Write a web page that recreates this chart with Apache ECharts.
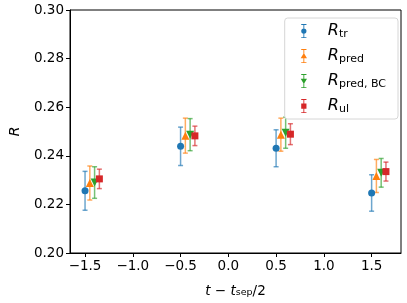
<!DOCTYPE html>
<html><head><meta charset="utf-8">
<script src="https://cdn.jsdelivr.net/npm/echarts@6/dist/echarts.min.js"></script>
<style>html,body{margin:0;padding:0;background:#fff}#c{width:407px;height:303px}</style>
</head><body><div id="c"></div>
<script>
// ---- data ----
const groupX = [-1.5, -0.5, 0.5, 1.5];
const xTicks = [-1.5, -1.0, -0.5, 0.0, 0.5, 1.0, 1.5];
const yTicks = [0.20, 0.22, 0.24, 0.26, 0.28, 0.30];
const seriesKeys = ['tr', 'pred', 'predBC', 'ul'];
const seriesSubs = ['tr', 'pred', 'pred, BC', 'ul'];
const rTr = [0.2256, 0.2439, 0.2431, 0.2247];
const rTrErr = [0.0080, 0.0079, 0.0076, 0.0075];
const rPred = [0.2288, 0.2483, 0.2487, 0.2317];
const rPredErr = [0.0070, 0.0072, 0.0068, 0.0068];
const rPredBC = [0.2290, 0.2487, 0.2495, 0.2330];
const rPredBCErr = [0.0065, 0.0066, 0.0064, 0.0059];
const rUl = [0.2305, 0.2482, 0.2489, 0.2335];
const rUlErr = [0.0040, 0.0040, 0.0043, 0.0039];

const values = [rTr, rPred, rPredBC, rUl];
const errs = [rTrErr, rPredErr, rPredBCErr, rUlErr];
const colors = ['#1f77b4', '#ff7f0e', '#2ca02c', '#d62728'];
const offsets = [0, 0.05, 0.10, 0.15];
const symbols = ['circle', 'triangle', 'triangle', 'rect'];
const symRot = [0, 0, 180, 0];
const symSizes = [7, 8, 8, 7];

const bar = 'M2,0 H8 V1 H2 Z M4.5,0 H5.5 V16 H4.5 Z M2,15 H8 V16 H2 Z ';
const icons = [
  'path://' + bar + 'M8,8 A3,3 0 1 1 2,8 A3,3 0 1 1 8,8 Z',
  'path://' + bar + 'M5,4.5 L8.6,10.5 L1.4,10.5 Z',
  'path://' + bar + 'M1.4,5.5 L8.6,5.5 L5,11.5 Z',
  'path://' + bar + 'M2,5 H8 V11 H2 Z'
];

const series = [];
seriesKeys.forEach((k, si) => {
  const data = groupX.map((x, i) => [x + offsets[si], values[si][i], errs[si][i]]);
  series.push({
    type: 'custom', name: k + '_err', z: 2,
    data: data,
    renderItem: function (params, api) {
      const x = api.value(0), y = api.value(1), e = api.value(2);
      const top = api.coord([x, y + e]);
      const bot = api.coord([x, y - e]);
      const hw = 2.5;
      const st = { stroke: colors[si], lineWidth: 1.5, opacity: 0.65 };
      return { type: 'group', children: [
        { type: 'line', shape: { x1: top[0], y1: top[1], x2: bot[0], y2: bot[1] }, style: st },
        { type: 'line', shape: { x1: top[0] - hw, y1: top[1], x2: top[0] + hw, y2: top[1] }, style: st },
        { type: 'line', shape: { x1: bot[0] - hw, y1: bot[1], x2: bot[0] + hw, y2: bot[1] }, style: st }
      ]};
    }
  });
  series.push({
    type: 'scatter', name: k, z: 3,
    data: data.map(d => [d[0], d[1]]),
    symbol: symbols[si], symbolRotate: symRot[si], symbolSize: symSizes[si],
    itemStyle: { color: colors[si], opacity: 1 }
  });
});

const fmt = v => (v < 0 ? '\u2212' : '') + Math.abs(v).toFixed(1);
const chart = echarts.init(document.getElementById('c'), null, { renderer: 'canvas' });
chart.setOption({
  animation: false,
  textStyle: { fontFamily: 'DejaVu Sans' },
  grid: { left: 62, right: 6, top: 10, bottom: 45, show: true, borderColor: '#000', borderWidth: 1 },
  legend: {
    orient: 'vertical', right: 9, top: 18,
    backgroundColor: '#fff', borderColor: '#d6d6d6', borderWidth: 1, borderRadius: 3,
    padding: [5, 12, 4, 16],
    itemWidth: 10, itemHeight: 14, itemGap: 8,
    data: seriesKeys.map((k, i) => ({ name: k, icon: icons[i], itemStyle: { color: colors[i] } })),
    formatter: function (name) { return '{r|R}{s|' + seriesSubs[seriesKeys.indexOf(name)] + '}'; },
    textStyle: {
      padding: [0, 0, 0, 14],
      rich: {
        r: { fontFamily: 'DejaVu Sans', fontStyle: 'italic', fontSize: 16, color: '#000', lineHeight: 18 },
        s: { fontFamily: 'DejaVu Sans', fontSize: 11, color: '#000', verticalAlign: 'bottom', lineHeight: 12 }
      }
    }
  },
  xAxis: {
    type: 'value', min: -1.6575, max: 1.8075,
    splitLine: { show: false },
    axisLine: { onZero: false, lineStyle: { color: '#000' } },
    axisTick: { customValues: xTicks, length: 4, lineStyle: { color: '#000' } },
    axisLabel: { customValues: xTicks, formatter: fmt, color: '#000', fontSize: 13.5, margin: 6, fontFamily: 'DejaVu Sans' },
    name: '{i|t} \u2212 {i|t}{s|sep}/2', nameLocation: 'middle', nameGap: 31,
    nameTextStyle: { color: '#000', rich: {
      i: { fontStyle: 'italic', fontSize: 13.5, fontFamily: 'DejaVu Sans', color: '#000' },
      s: { fontSize: 9.5, fontFamily: 'DejaVu Sans', verticalAlign: 'bottom', color: '#000' }
    }, fontSize: 13.5, fontFamily: 'DejaVu Sans' }
  },
  yAxis: {
    type: 'value', min: 0.20, max: 0.30, interval: 0.02,
    splitLine: { show: false },
    axisLine: { show: true, onZero: false, lineStyle: { color: '#000' } },
    axisTick: { show: true, length: 4, lineStyle: { color: '#000' } },
    axisLabel: { formatter: v => v.toFixed(2), color: '#000', fontSize: 13.5, margin: 6, fontFamily: 'DejaVu Sans' },
    name: 'R', nameLocation: 'middle', nameGap: 48, nameRotate: 90,
    nameTextStyle: { color: '#000', fontStyle: 'italic', fontSize: 14, fontFamily: 'DejaVu Sans' }
  },
  series: series
});
</script></body></html>
